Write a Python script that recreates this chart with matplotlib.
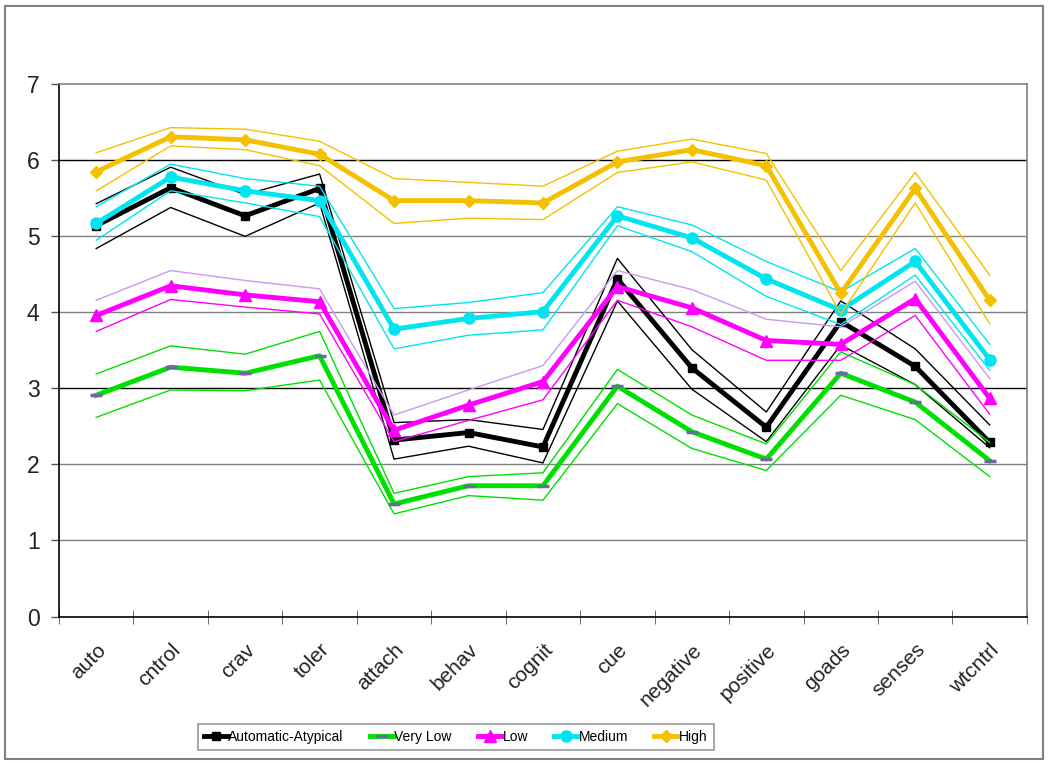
import matplotlib
matplotlib.use("Agg")
import matplotlib.pyplot as plt
from matplotlib.lines import Line2D
from matplotlib.patches import Rectangle

# categories on the x axis
cats = ["auto", "cntrol", "crav", "toler", "attach", "behav", "cognit",
        "cue", "negative", "positive", "goads", "senses", "wtcntrl"]

# Automatic-Atypical: mean with upper / lower band
atyp = [5.14, 5.64, 5.27, 5.63, 2.32, 2.42, 2.23, 4.44, 3.27, 2.49, 3.88, 3.29, 2.29]
atyp_hi = [5.43, 5.91, 5.55, 5.82, 2.55, 2.59, 2.46, 4.71, 3.51, 2.69, 4.15, 3.52, 2.52]
atyp_lo = [4.84, 5.38, 5.00, 5.44, 2.07, 2.24, 2.02, 4.15, 2.99, 2.30, 3.57, 3.05, 2.22]

# Very Low
vlow = [2.91, 3.28, 3.20, 3.43, 1.48, 1.72, 1.72, 3.03, 2.43, 2.07, 3.20, 2.82, 2.05]
vlow_hi = [3.19, 3.56, 3.45, 3.75, 1.62, 1.84, 1.89, 3.25, 2.65, 2.27, 3.48, 3.05, 2.29]
vlow_lo = [2.62, 2.98, 2.97, 3.11, 1.35, 1.59, 1.53, 2.80, 2.21, 1.92, 2.91, 2.59, 1.84]

# Low
low = [3.96, 4.35, 4.23, 4.14, 2.45, 2.78, 3.09, 4.34, 4.06, 3.63, 3.58, 4.18, 2.87]
low_hi = [4.16, 4.55, 4.42, 4.31, 2.65, 2.98, 3.30, 4.55, 4.30, 3.91, 3.81, 4.41, 3.13]
low_lo = [3.75, 4.17, 4.07, 3.98, 2.30, 2.58, 2.85, 4.16, 3.81, 3.37, 3.37, 3.96, 2.66]

# Medium
med = [5.17, 5.78, 5.60, 5.47, 3.78, 3.92, 4.01, 5.27, 4.98, 4.44, 4.03, 4.67, 3.38]
med_hi = [5.39, 5.95, 5.76, 5.66, 4.05, 4.13, 4.26, 5.39, 5.15, 4.67, 4.27, 4.84, 3.58]
med_lo = [4.95, 5.60, 5.44, 5.26, 3.52, 3.70, 3.77, 5.14, 4.80, 4.21, 3.84, 4.49, 3.24]

# High
high = [5.85, 6.31, 6.27, 6.08, 5.47, 5.47, 5.44, 5.98, 6.14, 5.93, 4.25, 5.63, 4.16]
high_hi = [6.10, 6.43, 6.41, 6.25, 5.76, 5.71, 5.66, 6.12, 6.28, 6.09, 4.55, 5.84, 4.49]
high_lo = [5.60, 6.19, 6.14, 5.93, 5.17, 5.24, 5.22, 5.84, 5.98, 5.74, 3.98, 5.44, 3.85]

plt.rcParams['font.family'] = ['Liberation Sans', 'DejaVu Sans']

fig = plt.figure(figsize=(10.5, 7.63), dpi=100)
ax = fig.add_axes([0.0562, 0.192, 0.9218, 0.6975])
x = list(range(len(cats)))

# horizontal grid; 3 and 6 are drawn darker in the original
for yv in range(1, 7):
    col = "black" if yv in (3, 6) else "#808080"
    ax.axhline(yv, color=col, lw=1.0, zorder=1)

series = [
    ("Automatic-Atypical", atyp, atyp_hi, atyp_lo, "black", "black", "black",
     dict(marker="s", ms=6, mfc="black", mec="black")),
    ("Very Low", vlow, vlow_hi, vlow_lo, "#00e000", "#00e000", "#00e000",
     dict(marker="_", ms=9, mew=2.5, mec="#6a6aa0")),
    ("Low", low, low_hi, low_lo, "#ff00ff", "#c89af0", "#ff00ff",
     dict(marker="^", ms=8, mfc="#ff00ff", mec="#ff00ff")),
    ("Medium", med, med_hi, med_lo, "#00e5f0", "#00e5f0", "#00e5f0",
     dict(marker="o", ms=8, mfc="#00e5f0", mec="#00e5f0")),
    ("High", high, high_hi, high_lo, "#f5c000", "#f5c000", "#f5c000",
     dict(marker="D", ms=6, mfc="#f5c000", mec="#f5c000")),
]

handles = []
for i, (name, mid, hi, lo, col, col_hi, col_lo, mk) in enumerate(series):
    ax.plot(x, hi, color=col_hi, lw=1.0, zorder=2 + i)
    ax.plot(x, lo, color=col_lo, lw=1.0, zorder=2 + i)
    ax.plot(x, mid, color=col, lw=3.5, zorder=3 + i, **mk)
    handles.append(Line2D([], [], color=col, lw=3.5, **mk))

ax.set_xlim(-0.5, len(cats) - 0.5)
ax.set_ylim(0, 7)
ax.set_yticks(range(0, 8))
ax.set_xticks(x)
ax.set_xticklabels(cats, rotation=45, ha="right", va="top",
                   rotation_mode="anchor", fontsize=15, color="#222222")
ax.set_xticks([k - 0.5 for k in range(len(cats) + 1)], minor=True)
ax.tick_params(axis="x", which="major", length=0, pad=17)
ax.tick_params(axis="x", which="minor", length=10, direction="inout",
               color="#555555")
ax.tick_params(axis="y", length=6, width=1, color="#555555",
               labelsize=16.5, labelcolor="#222222", pad=8)

ax.spines["left"].set_color("black")
ax.spines["bottom"].set_color("black")
ax.spines["top"].set_color("#808080")
ax.spines["right"].set_color("#808080")
for s in ax.spines.values():
    s.set_linewidth(1.2)

leg = fig.legend(handles, [s[0] for s in series], ncol=5,
                 loc="center", bbox_to_anchor=(0.434, 0.034),
                 fontsize=10, frameon=True, fancybox=False,
                 handlelength=1.7, handletextpad=0.05, columnspacing=1.9,
                 borderpad=0.45)
leg.get_frame().set_edgecolor("#808080")
leg.get_frame().set_linewidth(1.2)

# outer chart border
fig.patches.append(Rectangle((5 / 1050, 4 / 763), 1038 / 1050, 753 / 763,
                             transform=fig.transFigure, fill=False,
                             edgecolor="#808080", lw=1.5))

fig.savefig("out.png", dpi=100)
